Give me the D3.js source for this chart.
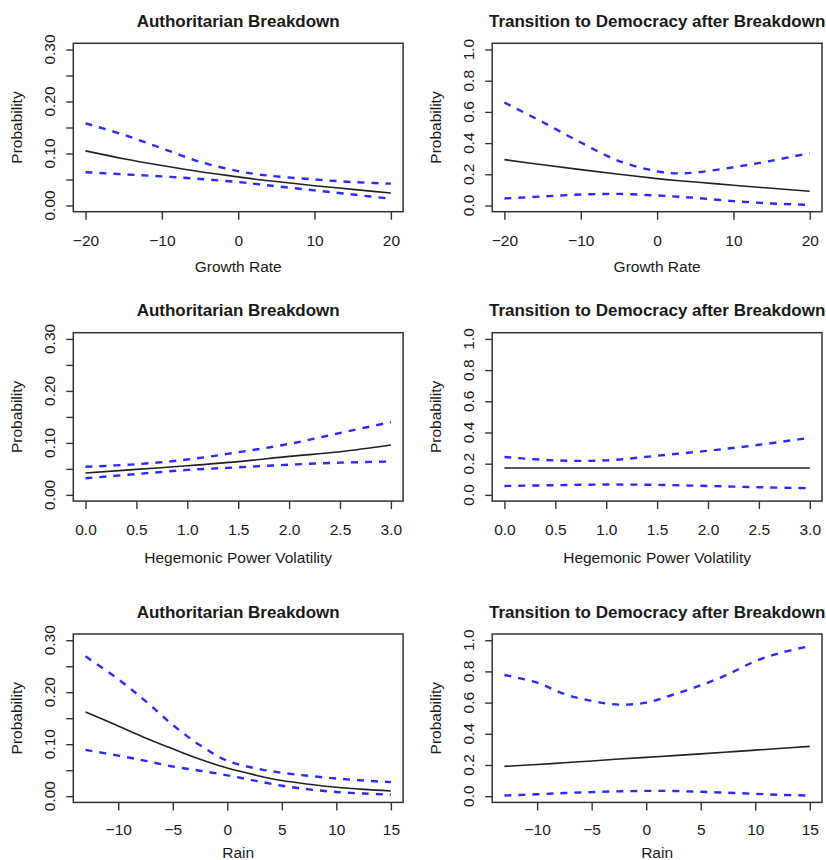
<!DOCTYPE html>
<html>
<head>
<meta charset="utf-8">
<title>Predicted probabilities</title>
<script src="https://d3js.org/d3.v7.min.js"></script>
<style>
  body { margin: 0; background: #fff; }
  svg text { font-family: "Liberation Sans", Arial, Helvetica, sans-serif; fill: #1a1a1a; }
</style>
</head>
<body>
<svg id="chart"></svg>
<script>

// titles / labels
var titleAuth = 'Authoritarian Breakdown'
var titleDem = 'Transition to Democracy after Breakdown'
var xLabels = ['Growth Rate', 'Hegemonic Power Volatility', 'Rain']

// tick values
var authTicks = [0, 0.05, 0.10, 0.15, 0.20, 0.25, 0.30]
var authTickLabels = ['0.00', '', '0.10', '', '0.20', '', '0.30']
var demTicks = [0, 0.2, 0.4, 0.6, 0.8, 1.0]
var growthTicks = [-20, -10, 0, 10, 20]
var hegTicks = [0, 0.5, 1.0, 1.5, 2.0, 2.5, 3.0]
var rainTicks = [-10, -5, 0, 5, 10, 15]

// growth rate
var growthX = [-20, -15, -10, -5, 0, 2.5, 5, 10, 15, 20]
var authGrowthFit = [0.105, 0.090, 0.077, 0.065, 0.055, 0.050, 0.046, 0.038, 0.031, 0.024]
var authGrowthHi  = [0.158, 0.136, 0.110, 0.084, 0.066, 0.060, 0.056, 0.050, 0.045, 0.042]
var authGrowthLo  = [0.064, 0.060, 0.056, 0.051, 0.045, 0.041, 0.037, 0.029, 0.021, 0.013]
var demGrowthFit  = [0.294, 0.261, 0.230, 0.200, 0.172, 0.160, 0.150, 0.130, 0.110, 0.091]
var demGrowthHi   = [0.660, 0.535, 0.404, 0.285, 0.219, 0.206, 0.211, 0.245, 0.287, 0.336]
var demGrowthLo   = [0.045, 0.058, 0.070, 0.074, 0.064, 0.057, 0.049, 0.028, 0.013, 0.004]

// hegemonic power volatility
var hegX = [0, 0.5, 1.0, 1.5, 2.0, 2.5, 3.0]
var authHegFit = [0.042, 0.049, 0.056, 0.064, 0.074, 0.083, 0.096]
var authHegHi  = [0.054, 0.059, 0.068, 0.082, 0.098, 0.119, 0.140]
var authHegLo  = [0.032, 0.040, 0.048, 0.053, 0.058, 0.062, 0.064]
var demHegFit  = [0.172, 0.172, 0.172, 0.172, 0.172, 0.172, 0.172]
var demHegHi   = [0.243, 0.221, 0.221, 0.251, 0.283, 0.321, 0.366]
var demHegLo   = [0.057, 0.062, 0.066, 0.064, 0.057, 0.049, 0.043]

// rain
var rainX = [-13, -10, -7.5, -5, -2.5, 0, 2.5, 5, 7.5, 10, 12.5, 15]
var authRainFit = [0.162, 0.135, 0.112, 0.091, 0.071, 0.054, 0.041, 0.030, 0.023, 0.017, 0.013, 0.010]
var authRainHi  = [0.269, 0.225, 0.183, 0.137, 0.098, 0.068, 0.054, 0.045, 0.039, 0.034, 0.030, 0.027]
var authRainLo  = [0.089, 0.078, 0.068, 0.057, 0.049, 0.040, 0.030, 0.020, 0.013, 0.008, 0.005, 0.003]
var demRainFit  = [0.191, 0.203, 0.214, 0.226, 0.238, 0.249, 0.260, 0.271, 0.283, 0.295, 0.307, 0.319]
var demRainHi   = [0.777, 0.728, 0.655, 0.611, 0.587, 0.600, 0.652, 0.711, 0.781, 0.866, 0.923, 0.962]
var demRainLo   = [0.004, 0.012, 0.020, 0.026, 0.031, 0.034, 0.033, 0.028, 0.022, 0.015, 0.008, 0.004]

var W = 826, H = 860
var svg = d3.select('#chart').attr('width', W).attr('height', H)
svg.append('rect').attr('width', W).attr('height', H).attr('fill', '#fff')

// panel geometry
var colLeft = [73.3, 492.2]
var boxW = 329.8
var rowTop = [43.3, 332.7, 634]
var boxH = 168.4
var tickOff = [34.3, 34.3, 33]
var labelOff = [60, 62, 56]

var panels = [
  {row: 0, col: 0, title: titleAuth, xs: growthX, fit: authGrowthFit, hi: authGrowthHi, lo: authGrowthLo, xt: growthTicks, ymax: 0.3, yt: authTicks, ytl: authTickLabels},
  {row: 0, col: 1, title: titleDem, xs: growthX, fit: demGrowthFit, hi: demGrowthHi, lo: demGrowthLo, xt: growthTicks, ymax: 1, yt: demTicks},
  {row: 1, col: 0, title: titleAuth, xs: hegX, fit: authHegFit, hi: authHegHi, lo: authHegLo, xt: hegTicks, ymax: 0.3, yt: authTicks, ytl: authTickLabels, xfmt: '.1f'},
  {row: 1, col: 1, title: titleDem, xs: hegX, fit: demHegFit, hi: demHegHi, lo: demHegLo, xt: hegTicks, ymax: 1, yt: demTicks, xfmt: '.1f'},
  {row: 2, col: 0, title: titleAuth, xs: rainX, fit: authRainFit, hi: authRainHi, lo: authRainLo, xt: rainTicks, ymax: 0.3, yt: authTicks, ytl: authTickLabels},
  {row: 2, col: 1, title: titleDem, xs: rainX, fit: demRainFit, hi: demRainHi, lo: demRainLo, xt: rainTicks, ymax: 1, yt: demTicks}
]

function fmtNum(v, f) {
  var s = f ? d3.format(f)(v) : String(v)
  return s.replace('-', '\u2212')
}

panels.forEach(function(p) {
  var left = colLeft[p.col], top = rowTop[p.row]
  var g = svg.append('g').attr('transform', 'translate(' + left + ',' + top + ')')

  // R style 4% padding
  var xmin = d3.min(p.xs), xmax = d3.max(p.xs), xr = xmax - xmin
  var x = d3.scaleLinear().domain([xmin - 0.04 * xr, xmax + 0.04 * xr]).range([0, boxW])
  var y = d3.scaleLinear().domain([-0.04 * p.ymax, 1.04 * p.ymax]).range([boxH, 0])

  var line = d3.line().x(function(d) { return x(d[0]) }).y(function(d) { return y(d[1]) }).curve(d3.curveCatmullRom.alpha(0.5))
  function pts(arr) { return p.xs.map(function(v, i) { return [v, arr[i]] }) }

  g.append('path').attr('d', line(pts(p.hi)))
    .attr('fill', 'none').attr('stroke', '#2a2aff').attr('stroke-width', 2.4).attr('stroke-dasharray', '7,7')
  g.append('path').attr('d', line(pts(p.lo)))
    .attr('fill', 'none').attr('stroke', '#2a2aff').attr('stroke-width', 2.4).attr('stroke-dasharray', '7,7')
  g.append('path').attr('d', line(pts(p.fit)))
    .attr('fill', 'none').attr('stroke', '#222').attr('stroke-width', 1.6)

  // box
  g.append('rect').attr('width', boxW).attr('height', boxH)
    .attr('fill', 'none').attr('stroke', '#333').attr('stroke-width', 1.5)

  // x axis
  var xAxis = d3.axisBottom(x).tickValues(p.xt).tickSize(8).tickSizeOuter(0)
    .tickFormat(function(d) { return fmtNum(d, p.xfmt) })
  var xg = g.append('g').attr('transform', 'translate(0,' + boxH + ')').call(xAxis)
  xg.select('.domain').remove()
  xg.selectAll('.tick line').attr('stroke', '#333').attr('stroke-width', 1.4)
  xg.selectAll('.tick text').attr('y', tickOff[p.row]).attr('dy', null)
    .style('font-size', '15.5px').attr('fill', '#1a1a1a')

  // y axis
  var yAxis = d3.axisLeft(y).tickValues(p.yt).tickSize(7).tickSizeOuter(0).tickFormat('')
  var yg = g.append('g').call(yAxis)
  yg.select('.domain').remove()
  yg.selectAll('.tick line').attr('stroke', '#333').attr('stroke-width', 1.4)
  p.yt.forEach(function(v, i) {
    var lab = p.ytl ? p.ytl[i] : d3.format('.1f')(v)
    if (!lab) return
    g.append('text')
      .attr('transform', 'translate(-18,' + y(v) + ') rotate(-90)')
      .attr('text-anchor', 'middle')
      .style('font-size', '15.5px')
      .text(lab)
  })

  // labels
  g.append('text').attr('transform', 'translate(-51,' + (boxH / 2) + ') rotate(-90)')
    .attr('text-anchor', 'middle').style('font-size', '15.5px').text('Probability')
  g.append('text').attr('x', boxW / 2).attr('y', boxH + labelOff[p.row])
    .attr('text-anchor', 'middle').style('font-size', '15.5px').text(xLabels[p.row])
  g.append('text').attr('x', boxW / 2).attr('y', -16.5)
    .attr('text-anchor', 'middle').style('font-size', '17px').style('font-weight', 'bold')
    .attr('fill', '#000').text(p.title)
})

</script>
</body>
</html>
